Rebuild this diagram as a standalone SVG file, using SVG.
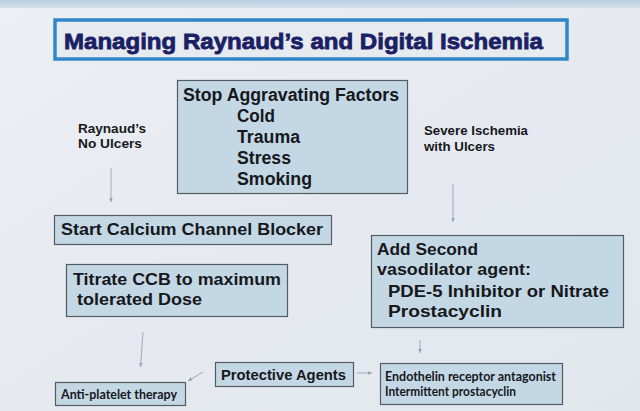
<svg xmlns="http://www.w3.org/2000/svg" width="640" height="411" viewBox="0 0 640 411">
<defs>
<linearGradient id="bg" x1="0" y1="0" x2="1" y2="1">
<stop offset="0" stop-color="#eceff4"/>
<stop offset="0.5" stop-color="#e6eaf0"/>
<stop offset="1" stop-color="#e2e7ee"/>
</linearGradient>
<linearGradient id="band" x1="0" y1="0" x2="0" y2="1">
<stop offset="0" stop-color="#b9cfe2"/>
<stop offset="1" stop-color="#d6e2ec"/>
</linearGradient>
<marker id="ah" viewBox="0 0 6 6" refX="5" refY="3" markerWidth="5" markerHeight="5" orient="auto">
<path d="M0,0.8 L5,3 L0,5.2 z" fill="#9aa2ab"/>
</marker>
</defs>
<style>
.box{fill:#c4d7e5;stroke:#555b62;stroke-width:1.2}
.t{font-family:"Liberation Sans",Arial,sans-serif;font-weight:bold;fill:#16181c}
.c{font-family:Lato,"Open Sans",sans-serif;font-weight:bold;fill:#16181c}
.arr{stroke:#a3aab3;stroke-width:1;fill:none;marker-end:url(#ah)}
</style>
<rect x="0" y="0" width="640" height="411" fill="url(#bg)"/>
<rect x="0" y="0" width="640" height="8" fill="url(#band)"/>

<g id="title">
<rect x="55" y="20" width="512" height="39" fill="#e7eaee" stroke="#2f86c8" stroke-width="3.5"/>
<text x="64" y="48.5" class="t" font-size="22.5" style="fill:#1b1f66" stroke="#1b1f66" stroke-width="0.8" textLength="479" lengthAdjust="spacingAndGlyphs">Managing Raynaud’s and Digital Ischemia</text>
</g>

<g id="stop">
<rect class="box" x="177.5" y="80.5" width="230" height="113"/>
<text class="t" font-size="18" x="183" y="101" textLength="216" lengthAdjust="spacingAndGlyphs">Stop Aggravating Factors</text>
<text class="t" font-size="18" x="237" y="122" textLength="38" lengthAdjust="spacingAndGlyphs">Cold</text>
<text class="t" font-size="18" x="237" y="143" textLength="63" lengthAdjust="spacingAndGlyphs">Trauma</text>
<text class="t" font-size="18" x="237" y="164" textLength="54" lengthAdjust="spacingAndGlyphs">Stress</text>
<text class="t" font-size="18" x="237" y="185" textLength="75" lengthAdjust="spacingAndGlyphs">Smoking</text>
</g>

<g id="raynaud">
<text class="t" font-size="13" x="78" y="133" textLength="68" lengthAdjust="spacingAndGlyphs">Raynaud’s</text>
<text class="t" font-size="13" x="78" y="148" textLength="64" lengthAdjust="spacingAndGlyphs">No Ulcers</text>
</g>

<g id="severe">
<text class="t" font-size="13" x="424" y="135" textLength="104" lengthAdjust="spacingAndGlyphs">Severe Ischemia</text>
<text class="t" font-size="13" x="424" y="151" textLength="71" lengthAdjust="spacingAndGlyphs">with Ulcers</text>
</g>

<g id="ccb">
<rect class="box" x="54.5" y="215.5" width="277" height="29"/>
<text class="t" font-size="16.5" x="61" y="235" textLength="262" lengthAdjust="spacingAndGlyphs">Start Calcium Channel Blocker</text>
</g>

<g id="titrate">
<rect class="box" x="66.5" y="264.5" width="221" height="52"/>
<text class="t" font-size="16.5" x="73" y="285" textLength="208" lengthAdjust="spacingAndGlyphs">Titrate CCB to maximum</text>
<text class="t" font-size="16.5" x="77" y="305" textLength="125" lengthAdjust="spacingAndGlyphs">tolerated Dose</text>
</g>

<g id="second">
<rect class="box" x="371.5" y="235.5" width="252" height="92"/>
<text class="t" font-size="17" x="377" y="255" textLength="101" lengthAdjust="spacingAndGlyphs">Add Second</text>
<text class="t" font-size="17" x="377" y="275" textLength="154" lengthAdjust="spacingAndGlyphs">vasodilator agent:</text>
<text class="t" font-size="17" x="388" y="297" textLength="221" lengthAdjust="spacingAndGlyphs">PDE-5 Inhibitor or Nitrate</text>
<text class="t" font-size="17" x="388" y="317" textLength="114" lengthAdjust="spacingAndGlyphs">Prostacyclin</text>
</g>

<g id="antiplatelet">
<rect class="box" x="55.5" y="382.5" width="130" height="23"/>
<text class="c" font-size="12.5" x="61" y="399" textLength="116" lengthAdjust="spacingAndGlyphs">Anti-platelet therapy</text>
</g>

<g id="protective">
<rect class="box" x="215.5" y="362.5" width="138" height="24"/>
<text class="t" font-size="15" x="221" y="380" textLength="125" lengthAdjust="spacingAndGlyphs">Protective Agents</text>
</g>

<g id="endothelin">
<rect class="box" x="380.5" y="363.5" width="182" height="41"/>
<text class="c" font-size="12.5" x="385" y="381" textLength="171" lengthAdjust="spacingAndGlyphs">Endothelin receptor antagonist</text>
<text class="c" font-size="12.5" x="385" y="396" textLength="131" lengthAdjust="spacingAndGlyphs">Intermittent prostacyclin</text>
</g>

<g id="connectors">
<line class="arr" x1="111" y1="168" x2="111" y2="202"/>
<line class="arr" x1="453" y1="184" x2="453" y2="222"/>
<line class="arr" x1="143" y1="332" x2="140.5" y2="367"/>
<line class="arr" x1="420" y1="340" x2="420" y2="353"/>
<line class="arr" x1="203" y1="372" x2="188" y2="381"/>
<line class="arr" x1="357" y1="373" x2="372" y2="373"/>
</g>
</svg>
